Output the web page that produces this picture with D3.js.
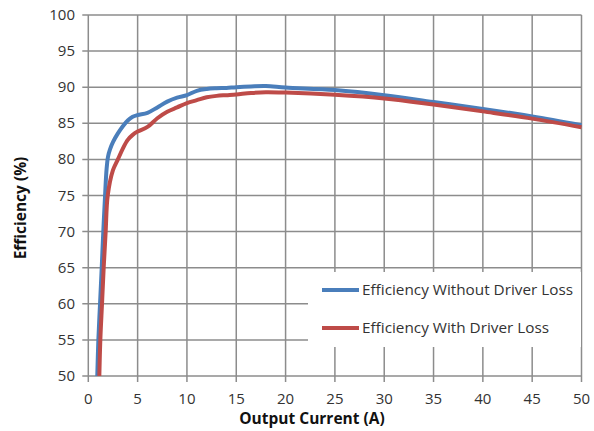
<!DOCTYPE html>
<html>
<head>
<meta charset="utf-8">
<script src="https://cdn.jsdelivr.net/npm/d3@7"></script>
<style>
  body { margin: 0; background: #fff; }
  text { font-family: "Open Sans", "Liberation Sans", sans-serif; fill: #333; }
</style>
</head>
<body>
<div class="d3"></div>
<script>
const currentA = [0.91, 1.02, 1.19, 1.36, 1.52, 1.7, 1.85, 2, 2.2, 2.5, 3, 3.5, 4, 4.5, 5, 6, 7, 8, 9, 10, 11, 12, 13, 14, 15, 16.5, 18, 20, 25, 30, 35, 40, 45, 50];
const effNoDriver = [50, 55, 60, 65, 70, 75, 78.6, 80.4, 81.4, 82.4, 83.6, 84.6, 85.4, 85.9, 86.15, 86.45, 87.2, 88.0, 88.55, 88.9, 89.5, 89.75, 89.85, 89.9, 90.0, 90.1, 90.15, 89.95, 89.6, 88.9, 87.95, 87.0, 85.95, 84.75];

const currentB = [1.12, 1.22, 1.39, 1.56, 1.76, 1.97, 2.5, 3, 3.5, 4, 4.5, 5, 6, 7, 8, 9, 10, 11, 12, 13, 14, 15, 16.5, 18, 20, 25, 30, 35, 40, 45, 50];
const effDriver = [50, 55, 60, 65, 70, 75, 78.5, 80.0, 81.5, 82.7, 83.4, 83.85, 84.5, 85.7, 86.6, 87.2, 87.8, 88.2, 88.6, 88.8, 88.9, 89.0, 89.2, 89.3, 89.25, 88.95, 88.45, 87.6, 86.65, 85.65, 84.45];

const xTicks = d3.range(0, 51, 5);
const yTicks = d3.range(50, 101, 5);
const seriesNames = ['Efficiency Without Driver Loss', 'Efficiency With Driver Loss'];
const colors = ['#4a7ebb', '#be4b48'];

window.addEventListener('load', function() {
  let width = 594;
  let height = 431;

  let svg = d3.select('.d3')
    .append('svg')
    .attr('width', width)
    .attr('height', height);

  let x = d3.scaleLinear().domain([0, 50]).range([88.3, 581.5]);
  let y = d3.scaleLinear().domain([50, 100]).range([376, 15]);

  let grid = svg.append('g').attr('stroke', '#8c8c8c').attr('stroke-width', 1.5);

  grid.selectAll('.h')
    .data(yTicks)
    .enter()
    .append('line')
    .attr('x1', x(0) - 6)
    .attr('x2', x(50))
    .attr('y1', d => y(d))
    .attr('y2', d => y(d));

  grid.selectAll('.v')
    .data(xTicks)
    .enter()
    .append('line')
    .attr('x1', d => x(d))
    .attr('x2', d => x(d))
    .attr('y1', y(100))
    .attr('y2', y(50) + 6);

  svg.append('g')
    .selectAll('text')
    .data(yTicks)
    .enter()
    .append('text')
    .attr('x', 75)
    .attr('y', d => y(d) + 5)
    .attr('text-anchor', 'end')
    .attr('font-size', 15)
    .text(d => d);

  svg.append('g')
    .selectAll('text')
    .data(xTicks)
    .enter()
    .append('text')
    .attr('x', d => x(d))
    .attr('y', 404)
    .attr('text-anchor', 'middle')
    .attr('font-size', 15)
    .text(d => d);

  svg.append('text')
    .attr('x', 312)
    .attr('y', 424)
    .attr('text-anchor', 'middle')
    .attr('font-size', 15.5)
    .attr('font-weight', 'bold')
    .style('fill', '#111')
    .text('Output Current (A)');

  svg.append('text')
    .attr('transform', 'translate(26,208) rotate(-90)')
    .attr('text-anchor', 'middle')
    .attr('font-size', 15.5)
    .attr('font-weight', 'bold')
    .style('fill', '#111')
    .text('Efficiency (%)');

  let line = d3.line()
    .x(d => x(d[0]))
    .y(d => y(d[1]))
    .curve(d3.curveCatmullRom.alpha(0.5));

  let series = [
    d3.zip(currentA, effNoDriver),
    d3.zip(currentB, effDriver)
  ];

  svg.append('defs').append('clipPath').attr('id', 'clip')
    .append('rect')
    .attr('x', x(0)).attr('y', y(100) - 5)
    .attr('width', x(50) - x(0) + 3).attr('height', y(50) - y(100) + 5);

  svg.append('g')
    .attr('clip-path', 'url(#clip)')
    .selectAll('path')
    .data(series)
    .enter()
    .append('path')
    .attr('fill', 'none')
    .attr('stroke', (d, i) => colors[i])
    .attr('stroke-width', 4)
    .attr('stroke-linejoin', 'round')
    .attr('d', line);

  // legend box covers the grid
  svg.append('rect')
    .attr('x', 308)
    .attr('y', 272)
    .attr('width', 273)
    .attr('height', 75)
    .attr('fill', '#fff');

  let legend = svg.append('g')
    .selectAll('g')
    .data(seriesNames)
    .enter()
    .append('g')
    .attr('transform', (d, i) => 'translate(322,' + (290 + i * 38) + ')');

  legend.append('line')
    .attr('x1', 0)
    .attr('x2', 37)
    .attr('stroke', (d, i) => colors[i])
    .attr('stroke-width', 4);

  legend.append('text')
    .attr('x', 40)
    .attr('y', 5)
    .attr('font-size', 15.3)
    .text(d => d);
});
</script>
</body>
</html>
